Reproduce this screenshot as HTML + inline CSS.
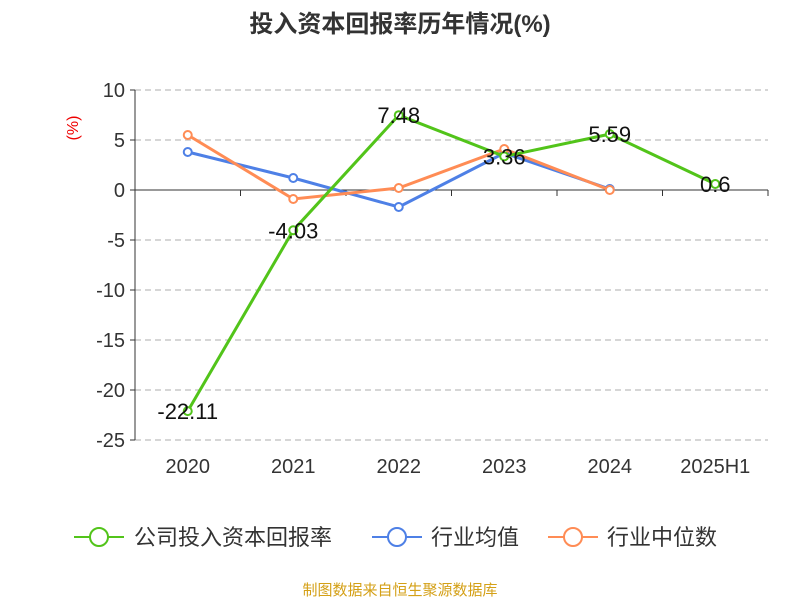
<!DOCTYPE html>
<html><head><meta charset="utf-8"><style>
body{margin:0;background:#fff;}
svg{display:block;font-family:"Liberation Sans","Noto Sans CJK SC",sans-serif;}
</style></head><body>
<svg id="c" width="800" height="600">
<text x="400" y="32" text-anchor="middle" font-size="24" font-weight="bold" fill="#333">投入资本回报率历年情况(%)</text>
<text x="78" y="128" font-size="16" fill="#e00" transform="rotate(-90 78 128)" text-anchor="middle">(%)</text>
<g id="grid"></g><g id="series"></g>
<g>
<g><line x1="74" y1="537" x2="124" y2="537" stroke="#52c41a" stroke-width="2"/><circle cx="99" cy="537" r="9" fill="#fff" stroke="#52c41a" stroke-width="2"/><text x="134" y="545" font-size="22" fill="#333">公司投入资本回报率</text></g>
<g><line x1="372" y1="537" x2="422" y2="537" stroke="#4e80e6" stroke-width="2"/><circle cx="397" cy="537" r="9" fill="#fff" stroke="#4e80e6" stroke-width="2"/><text x="431" y="545" font-size="22" fill="#333">行业均值</text></g>
<g><line x1="548" y1="537" x2="598" y2="537" stroke="#ff8c55" stroke-width="2"/><circle cx="573" cy="537" r="9" fill="#fff" stroke="#ff8c55" stroke-width="2"/><text x="607" y="545" font-size="22" fill="#333">行业中位数</text></g>
</g>
<text x="400" y="595" text-anchor="middle" font-size="15" fill="#d4a017">制图数据来自恒生聚源数据库</text>
</svg>
<script>
const categories=["2020","2021","2022","2023","2024","2025H1"];
const company=[-22.11,-4.03,7.48,3.36,5.59,0.6];
const industryAvg=[3.8,1.2,-1.7,3.7,0.1,null];
const industryMedian=[5.5,-0.9,0.2,4.1,0.0,null];
const yTicks=[10,5,0,-5,-10,-15,-20,-25];
const NS="http://www.w3.org/2000/svg";
const x0=135,x1=768,bw=(x1-x0)/categories.length;
const X=i=>x0+bw*(i+0.5);
const Y=v=>190-(v*10);
function mk(t,a,p){const e=document.createElementNS(NS,t);for(const k in a)e.setAttribute(k,a[k]);p.appendChild(e);return e;}
const g=document.getElementById('grid'),s=document.getElementById('series');
yTicks.forEach(v=>{
 if(v!==0){const l=mk('line',{x1:x0,x2:x1,y1:Y(v),y2:Y(v),stroke:'#c8c8c8','stroke-dasharray':'6,4','stroke-width':1.5},g);
 
 }
 const tk=mk('line',{x1:x0-5,x2:x0,y1:Y(v),y2:Y(v),stroke:'#333'},g);
 
 
 const t=mk('text',{x:x0-10,y:Y(v)+7,'text-anchor':'end','font-size':20,fill:'#333'},g);t.textContent=v;
 
 
});
const ya=mk('line',{x1:x0,x2:x0,y1:Y(10),y2:Y(-25),stroke:'#333'},g);


const xa=mk('line',{x1:x0,x2:x1,y1:Y(0),y2:Y(0),stroke:'#333'},g);


categories.forEach((c,i)=>{
 const tk=mk('line',{x1:x0+bw*(i+1),x2:x0+bw*(i+1),y1:Y(0),y2:Y(0)+6,stroke:'#333'},g);
 
 
 const t=mk('text',{x:X(i),y:473,'text-anchor':'middle','font-size':20,fill:'#333'},g);t.textContent=c;
 
 
});
function draw(data,color,name,labels){
 const pts=data.map((v,i)=>v==null?null:[X(i),Y(v)]).filter(p=>p);
 const pl=mk('polyline',{points:pts.map(p=>p.join(',')).join(' '),fill:'none',stroke:color,'stroke-width':3},s);
 
 
 data.forEach((v,i)=>{if(v==null)return;
  const c=mk('circle',{cx:X(i),cy:Y(v),r:4,fill:'#fff',stroke:color,'stroke-width':2},s);
  
  
  if(labels){const t=mk('text',{x:X(i),y:Y(v)+8,'text-anchor':'middle','font-size':22,fill:'#111'},s);t.textContent=v;
  
  }
 });
}
draw(industryAvg,'#4e80e6','industry-avg',false);
draw(industryMedian,'#ff8c55','industry-median',false);
draw(company,'#52c41a','company',true);
</script>
</body></html>
